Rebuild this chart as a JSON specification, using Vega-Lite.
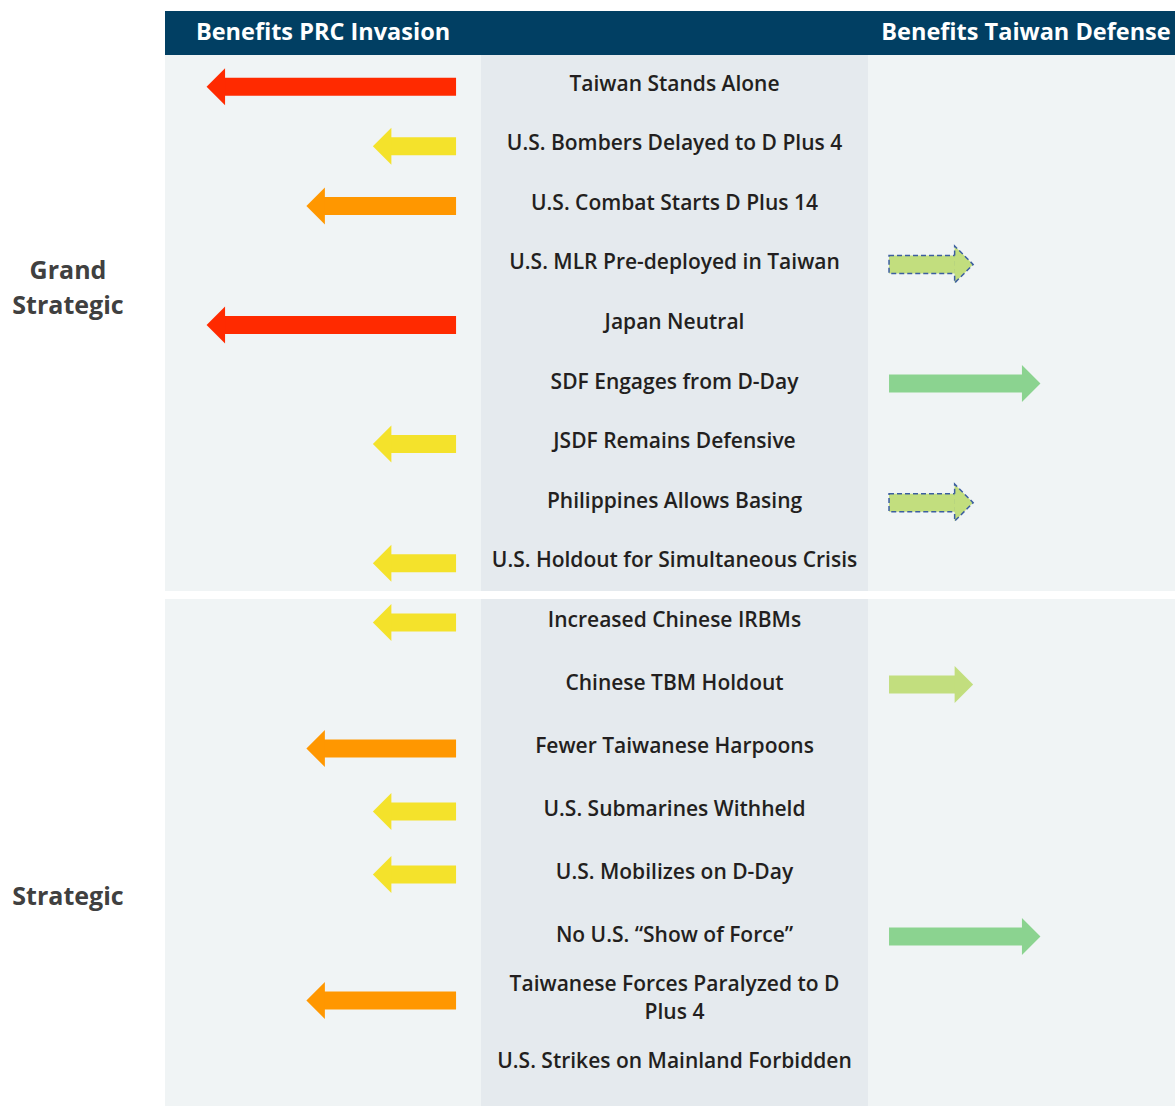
{
  "$schema": "https://vega.github.io/schema/vega-lite/v6.json",
  "padding": {"top": 11, "left": 0, "right": 0, "bottom": 0},
  "background": "white",
  "config": {
    "view": {"stroke": null},
    "concat": {"spacing": 0},
    "text": {"font": "Open Sans"}
  },
  "datasets": {
    "grand": [
      {"factor": "Taiwan Stands Alone", "effect": -3, "certainty": "firm"},
      {"factor": "U.S. Bombers Delayed to D Plus 4", "effect": -1, "certainty": "firm"},
      {"factor": "U.S. Combat Starts D Plus 14", "effect": -1.8, "certainty": "firm"},
      {"factor": "U.S. MLR Pre-deployed in Taiwan", "effect": 1, "certainty": "uncertain"},
      {"factor": "Japan Neutral", "effect": -3, "certainty": "firm"},
      {"factor": "SDF Engages from D-Day", "effect": 1.8, "certainty": "firm"},
      {"factor": "JSDF Remains Defensive", "effect": -1, "certainty": "firm"},
      {"factor": "Philippines Allows Basing", "effect": 1, "certainty": "uncertain"},
      {"factor": "U.S. Holdout for Simultaneous Crisis", "effect": -1, "certainty": "firm"}
    ],
    "strategic": [
      {"factor": "Increased Chinese IRBMs", "effect": -1, "certainty": "firm"},
      {"factor": "Chinese TBM Holdout", "effect": 1, "certainty": "firm"},
      {"factor": "Fewer Taiwanese Harpoons", "effect": -1.8, "certainty": "firm"},
      {"factor": "U.S. Submarines Withheld", "effect": -1, "certainty": "firm"},
      {"factor": "U.S. Mobilizes on D-Day", "effect": -1, "certainty": "firm"},
      {"factor": "No U.S. “Show of Force”", "effect": 1.8, "certainty": "firm"},
      {"factor": "Taiwanese Forces Paralyzed to D\nPlus 4", "effect": -1.8, "certainty": "firm"},
      {"factor": "U.S. Strikes on Mainland Forbidden", "effect": 0, "certainty": "firm"}
    ]
  },
  "vconcat": [
    {
      "hconcat": [
        {"width": 165, "height": 44, "data": {"values": [{}]}, "mark": "text", "encoding": {"text": {"value": ""}}},
        {"width": 316, "height": 44, "view": {"fill": "#013F63"}, "data": {"values": [{"side": "Benefits PRC Invasion"}]},
          "mark": {"type": "text", "color": "white", "fontSize": 23.5, "fontWeight": "bold"},
          "encoding": {"text": {"field": "side"}}},
        {"width": 387, "height": 44, "view": {"fill": "#013F63"}, "data": {"values": [{}]}, "mark": "text", "encoding": {"text": {"value": ""}}},
        {"width": 307, "height": 44, "view": {"fill": "#013F63"}, "data": {"values": [{"side": "Benefits Taiwan Defense"}]},
          "mark": {"type": "text", "color": "white", "fontSize": 23.5, "fontWeight": "bold", "dx": 4.5},
          "encoding": {"text": {"field": "side"}}}
      ]
    },
    {
      "spacing": 8,
      "vconcat": [
        {
          "hconcat": [
            {"width": 165, "height": 536, "data": {"values": [{"section": "Grand Strategic"}]},
              "mark": {"type": "text", "fontSize": 25, "fontWeight": "bold", "color": "#404040", "lineBreak": " ", "lineHeight": 35, "dx": -14.5, "dy": -52},
              "encoding": {"text": {"field": "section"}}},
            {"width": 316, "height": 536, "view": {"fill": "#F0F4F5"},
              "data": {"name": "grand"},
              "transform": [{"filter": {"field": "effect", "lt": 0}}],
              "encoding": {
                "y": {"field": "factor", "type": "nominal", "axis": null,
                  "scale": {"type": "band", "paddingInner": 0, "paddingOuter": 0,
                    "domain": ["Taiwan Stands Alone", "U.S. Bombers Delayed to D Plus 4", "U.S. Combat Starts D Plus 14", "U.S. MLR Pre-deployed in Taiwan", "Japan Neutral", "SDF Engages from D-Day", "JSDF Remains Defensive", "Philippines Allows Basing", "U.S. Holdout for Simultaneous Crisis"]}},
                "color": {"field": "effect", "type": "ordinal", "legend": null,
                  "scale": {"domain": [-3, -1.8, -1, 1, 1.8], "range": ["#FF2A00", "#FF9700", "#F4E22B", "#C2DE7E", "#8BD390"]}}
              },
              "layer": [
                {"mark": {"type": "bar", "height": 18, "xOffset": 17.5, "yOffset": 2},
                  "encoding": {"x": {"field": "effect", "type": "quantitative", "axis": null, "scale": {"domain": [-3.5, 0.3]}}, "x2": {"datum": 0}}},
                {"mark": {"type": "point", "shape": "M0,0L1,-1L1,1Z", "size": 1369, "filled": true, "opacity": 1, "strokeWidth": 0, "yOffset": 2},
                  "encoding": {"x": {"field": "effect", "type": "quantitative", "axis": null, "scale": {"domain": [-3.5, 0.3]}}}}
              ]
            },
            {"width": 387, "height": 536, "view": {"fill": "#E5EAEE"},
              "data": {"name": "grand"},
              "mark": {"type": "text", "fontSize": 21, "fontWeight": 600, "color": "#231F20", "lineBreak": "\n", "lineHeight": 28},
              "encoding": {
                "y": {"field": "factor", "type": "nominal", "axis": null,
                  "scale": {"type": "band", "paddingInner": 0, "paddingOuter": 0,
                    "domain": ["Taiwan Stands Alone", "U.S. Bombers Delayed to D Plus 4", "U.S. Combat Starts D Plus 14", "U.S. MLR Pre-deployed in Taiwan", "Japan Neutral", "SDF Engages from D-Day", "JSDF Remains Defensive", "Philippines Allows Basing", "U.S. Holdout for Simultaneous Crisis"]}},
                "text": {"field": "factor"}
              }
            },
            {"width": 307, "height": 536, "view": {"fill": "#F0F4F5"},
              "data": {"name": "grand"},
              "transform": [{"filter": {"field": "effect", "gt": 0}}],
              "encoding": {
                "y": {"field": "factor", "type": "nominal", "axis": null,
                  "scale": {"type": "band", "paddingInner": 0, "paddingOuter": 0,
                    "domain": ["Taiwan Stands Alone", "U.S. Bombers Delayed to D Plus 4", "U.S. Combat Starts D Plus 14", "U.S. MLR Pre-deployed in Taiwan", "Japan Neutral", "SDF Engages from D-Day", "JSDF Remains Defensive", "Philippines Allows Basing", "U.S. Holdout for Simultaneous Crisis"]}},
                "color": {"field": "effect", "type": "ordinal", "legend": null,
                  "scale": {"domain": [-3, -1.8, -1, 1, 1.8], "range": ["#FF2A00", "#FF9700", "#F4E22B", "#C2DE7E", "#8BD390"]}},
                "stroke": {"field": "certainty", "type": "nominal", "legend": null,
                  "scale": {"domain": ["firm", "uncertain"], "range": ["transparent", "#3C5EA0"]}},
                "strokeDash": {"field": "certainty", "type": "nominal", "legend": null,
                  "scale": {"domain": ["firm", "uncertain"], "range": [[1, 0], [5, 3]]}}
              },
              "layer": [
                {"mark": {"type": "bar", "height": 18, "xOffset": -17.5, "strokeWidth": 1.5, "yOffset": 1},
                  "encoding": {"x": {"field": "effect", "type": "quantitative", "axis": null, "scale": {"domain": [-0.25, 3.4]}}, "x2": {"datum": 0}}},
                {"mark": {"type": "point", "shape": "M-1,-0.486L-1,-1L0,0L-1,1L-1,0.486", "size": 1369, "filled": true, "opacity": 1, "strokeWidth": 1.5, "yOffset": 1},
                  "encoding": {"x": {"field": "effect", "type": "quantitative", "axis": null, "scale": {"domain": [-0.25, 3.4]}}}}
              ]
            }
          ]
        },
        {
          "hconcat": [
            {"width": 165, "height": 507, "data": {"values": [{"section": "Strategic"}]},
              "mark": {"type": "text", "fontSize": 25, "fontWeight": "bold", "color": "#404040", "lineBreak": " ", "lineHeight": 35, "dx": -14.5, "dy": 44},
              "encoding": {"text": {"field": "section"}}},
            {"width": 316, "height": 507, "view": {"fill": "#F0F4F5"},
              "data": {"name": "strategic"},
              "transform": [{"filter": {"field": "effect", "lt": 0}}],
              "encoding": {
                "y": {"field": "factor", "type": "nominal", "axis": null,
                  "scale": {"type": "band", "paddingInner": 0, "paddingOuter": 0, "range": [-10, 494],
                    "domain": ["Increased Chinese IRBMs", "Chinese TBM Holdout", "Fewer Taiwanese Harpoons", "U.S. Submarines Withheld", "U.S. Mobilizes on D-Day", "No U.S. “Show of Force”", "Taiwanese Forces Paralyzed to D\nPlus 4", "U.S. Strikes on Mainland Forbidden"]}},
                "color": {"field": "effect", "type": "ordinal", "legend": null,
                  "scale": {"domain": [-3, -1.8, -1, 1, 1.8], "range": ["#FF2A00", "#FF9700", "#F4E22B", "#C2DE7E", "#8BD390"]}}
              },
              "layer": [
                {"mark": {"type": "bar", "height": 18, "xOffset": 17.5, "yOffset": 2},
                  "encoding": {"x": {"field": "effect", "type": "quantitative", "axis": null, "scale": {"domain": [-3.5, 0.3]}}, "x2": {"datum": 0}}},
                {"mark": {"type": "point", "shape": "M0,0L1,-1L1,1Z", "size": 1369, "filled": true, "opacity": 1, "strokeWidth": 0, "yOffset": 2},
                  "encoding": {"x": {"field": "effect", "type": "quantitative", "axis": null, "scale": {"domain": [-3.5, 0.3]}}}}
              ]
            },
            {"width": 387, "height": 507, "view": {"fill": "#E5EAEE"},
              "data": {"name": "strategic"},
              "encoding": {
                "y": {"field": "factor", "type": "nominal", "axis": null,
                  "scale": {"type": "band", "paddingInner": 0, "paddingOuter": 0, "range": [-10, 494],
                    "domain": ["Increased Chinese IRBMs", "Chinese TBM Holdout", "Fewer Taiwanese Harpoons", "U.S. Submarines Withheld", "U.S. Mobilizes on D-Day", "No U.S. “Show of Force”", "Taiwanese Forces Paralyzed to D\nPlus 4", "U.S. Strikes on Mainland Forbidden"]}},
                "text": {"field": "factor"}
              },
              "layer": [
                {"transform": [{"filter": "indexof(datum.factor, '\\n') < 0"}],
                  "mark": {"type": "text", "fontSize": 21, "fontWeight": 600, "color": "#231F20", "lineBreak": "\n", "lineHeight": 28}},
                {"transform": [{"filter": "indexof(datum.factor, '\\n') >= 0"}],
                  "mark": {"type": "text", "fontSize": 21, "fontWeight": 600, "color": "#231F20", "lineBreak": "\n", "lineHeight": 28, "dy": -14}}
              ]
            },
            {"width": 307, "height": 507, "view": {"fill": "#F0F4F5"},
              "data": {"name": "strategic"},
              "transform": [{"filter": {"field": "effect", "gt": 0}}],
              "encoding": {
                "y": {"field": "factor", "type": "nominal", "axis": null,
                  "scale": {"type": "band", "paddingInner": 0, "paddingOuter": 0, "range": [-10, 494],
                    "domain": ["Increased Chinese IRBMs", "Chinese TBM Holdout", "Fewer Taiwanese Harpoons", "U.S. Submarines Withheld", "U.S. Mobilizes on D-Day", "No U.S. “Show of Force”", "Taiwanese Forces Paralyzed to D\nPlus 4", "U.S. Strikes on Mainland Forbidden"]}},
                "color": {"field": "effect", "type": "ordinal", "legend": null,
                  "scale": {"domain": [-3, -1.8, -1, 1, 1.8], "range": ["#FF2A00", "#FF9700", "#F4E22B", "#C2DE7E", "#8BD390"]}},
                "stroke": {"field": "certainty", "type": "nominal", "legend": null,
                  "scale": {"domain": ["firm", "uncertain"], "range": ["transparent", "#3C5EA0"]}},
                "strokeDash": {"field": "certainty", "type": "nominal", "legend": null,
                  "scale": {"domain": ["firm", "uncertain"], "range": [[1, 0], [5, 3]]}}
              },
              "layer": [
                {"mark": {"type": "bar", "height": 18, "xOffset": -17.5, "strokeWidth": 1.5, "yOffset": 1},
                  "encoding": {"x": {"field": "effect", "type": "quantitative", "axis": null, "scale": {"domain": [-0.25, 3.4]}}, "x2": {"datum": 0}}},
                {"mark": {"type": "point", "shape": "M-1,-0.486L-1,-1L0,0L-1,1L-1,0.486", "size": 1369, "filled": true, "opacity": 1, "strokeWidth": 1.5, "yOffset": 1},
                  "encoding": {"x": {"field": "effect", "type": "quantitative", "axis": null, "scale": {"domain": [-0.25, 3.4]}}}}
              ]
            }
          ]
        }
      ]
    }
  ]
}
